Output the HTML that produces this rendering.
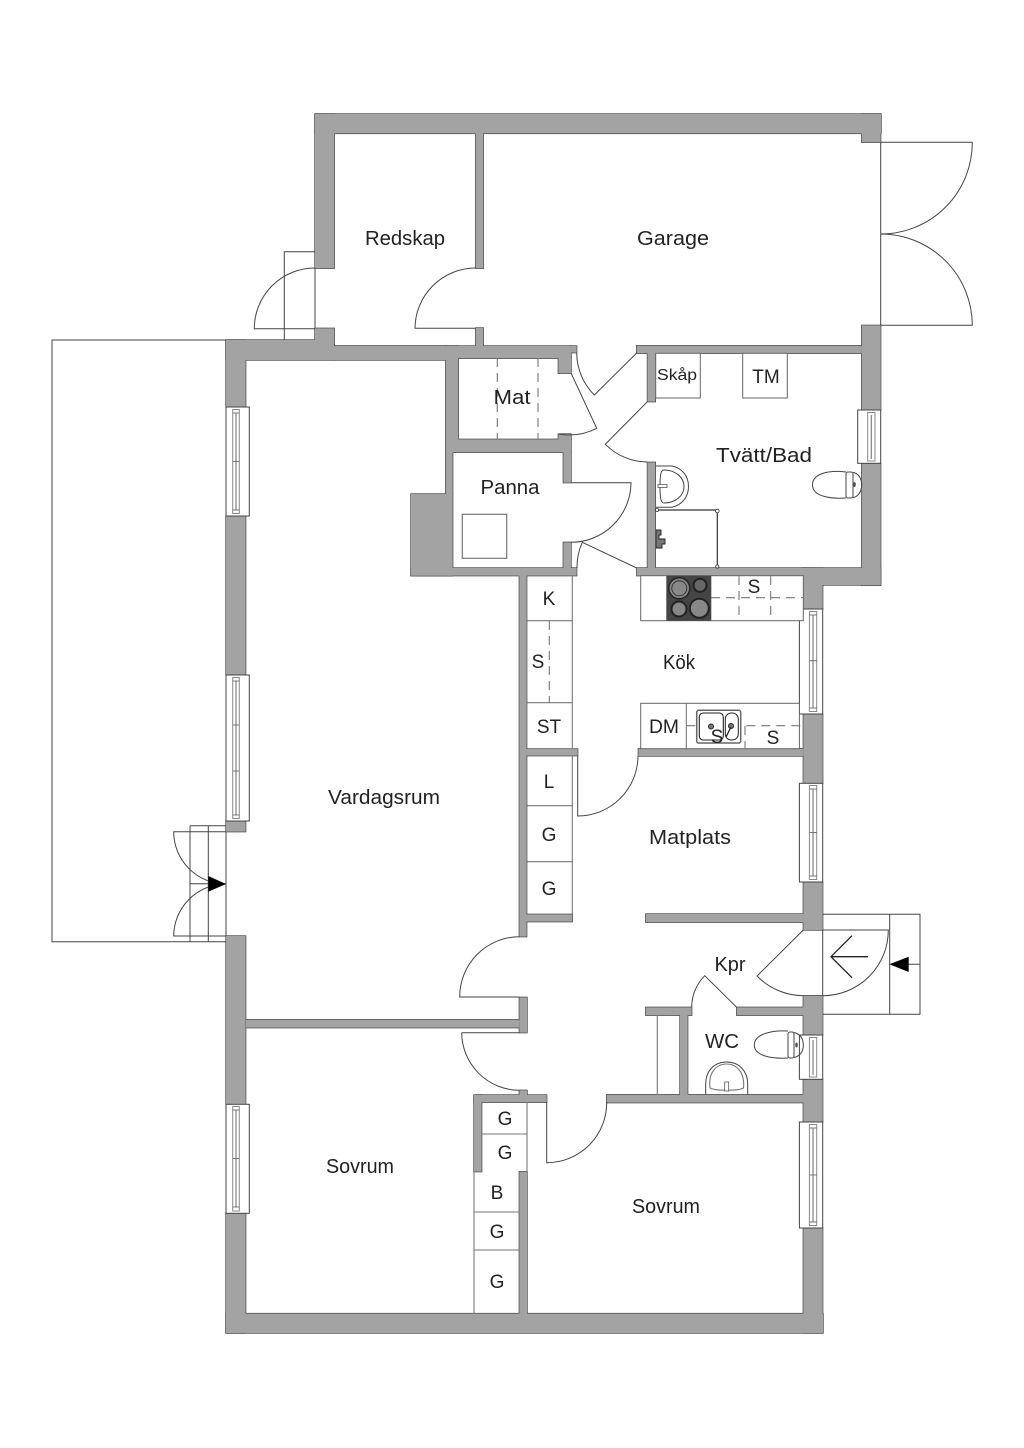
<!DOCTYPE html>
<html lang="sv">
<head>
<meta charset="utf-8">
<title>Planritning</title>
<style>
html,body{margin:0;padding:0;background:#fff}
svg{display:block}
text{font-family:"Liberation Sans",sans-serif;font-size:20px;fill:#222;text-anchor:middle}
.s{font-size:19px}
.l{fill:none;stroke:#444;stroke-width:1}
.g{fill:none;stroke:#777;stroke-width:1.1}
.d{fill:none;stroke:#777;stroke-width:1.1;stroke-dasharray:9 6}
.f{fill:#fff;stroke:#666;stroke-width:1}
.win{fill:#fff;stroke:#444;stroke-width:1}
.fr{fill:#fff;stroke:#888;stroke-width:1}
</style>
</head>
<body>
<svg xmlns="http://www.w3.org/2000/svg" width="1024" height="1448" viewBox="0 0 1024 1448">
<rect width="1024" height="1448" fill="#fff"/>
<defs>
<g id="w">
<rect x="315" y="114" width="566" height="19.5"/>
<rect x="315" y="114" width="19.3" height="154.3"/>
<rect x="861.7" y="114" width="19" height="28.3"/>
<rect x="475.7" y="133" width="7.6" height="135.3"/>
<rect x="315" y="328.3" width="19.3" height="20"/>
<rect x="475.7" y="328" width="7.6" height="20"/>
<rect x="226" y="340" width="108" height="20"/>
<rect x="334" y="346" width="237" height="12.3"/>
<rect x="334" y="346" width="112" height="14"/>
<rect x="570" y="346" width="6.7" height="6.7"/>
<rect x="558.3" y="357" width="12.7" height="16.3"/>
<rect x="445.7" y="346" width="12.6" height="106"/>
<rect x="445.7" y="439" width="7" height="55"/>
<rect x="445.7" y="439.3" width="125.3" height="13"/>
<rect x="558.3" y="434" width="12.7" height="6"/>
<rect x="563.3" y="452" width="7.7" height="30.7"/>
<rect x="411" y="494" width="41.7" height="81.7"/>
<rect x="411" y="568" width="165.7" height="7.7"/>
<rect x="563.3" y="542.3" width="7.7" height="26"/>
<rect x="519.3" y="575" width="7.4" height="361.7"/>
<rect x="526" y="749" width="51.7" height="6.7"/>
<rect x="526" y="914.3" width="46.3" height="7.4"/>
<rect x="226" y="340" width="19.7" height="67"/>
<rect x="226" y="516" width="19.7" height="159"/>
<rect x="226" y="820" width="19.7" height="11.7"/>
<rect x="226" y="936" width="19.7" height="168.3"/>
<rect x="226" y="1213" width="19.7" height="120"/>
<rect x="226" y="1313.5" width="597" height="19.5"/>
<rect x="803.3" y="568" width="19.4" height="41"/>
<rect x="803.3" y="714" width="19.4" height="69.3"/>
<rect x="803.3" y="882" width="19.4" height="48"/>
<rect x="803.3" y="995.7" width="19.4" height="39.3"/>
<rect x="803.3" y="1079.3" width="19.4" height="42.7"/>
<rect x="803.3" y="1228" width="19.4" height="105"/>
<rect x="636.7" y="345.7" width="225" height="7.6"/>
<rect x="861.7" y="325.3" width="19" height="84.7"/>
<rect x="861.7" y="463.3" width="19" height="122"/>
<rect x="803.3" y="568" width="77.4" height="17"/>
<rect x="636.7" y="568" width="167" height="7.7"/>
<rect x="647.4" y="353" width="8" height="48.7"/>
<rect x="647.4" y="462.3" width="8" height="106"/>
<rect x="638.3" y="748.7" width="165" height="7.3"/>
<rect x="645.7" y="914" width="158" height="8.3"/>
<rect x="645.7" y="1007.3" width="46" height="8"/>
<rect x="736.7" y="1007.3" width="67" height="8"/>
<rect x="680" y="1015" width="7.7" height="80"/>
<rect x="606.7" y="1094.7" width="197" height="8"/>
<rect x="474" y="1095" width="72.7" height="7.3"/>
<rect x="519.3" y="1090.3" width="7.7" height="5"/>
<rect x="474" y="1095" width="7.7" height="76.7"/>
<rect x="519.3" y="1171.7" width="7.7" height="142"/>
<rect x="246" y="1019.7" width="273.3" height="8"/>
<rect x="519.3" y="997.3" width="7.7" height="35.4"/>
</g>
</defs>

<path class="l" d="M226 340H52V941.7H226"/>
<path class="l" d="M190 825.7H226M190 825.7V941.7M208.3 825.7V941.7M190 883.7H226M226 831V937"/>
<path class="l" d="M226 831.7H173.7A52.3 52.3 0 0 0 226 884M226 936H173.7A52.3 52.3 0 0 1 226 884"/>
<polygon points="226,884 208.3,876 208.3,891.7" fill="#000"/>
<path class="l" d="M315 251.7H284.3V340"/>
<path class="l" d="M315 328.7H254.3A60.7 60.7 0 0 1 315 268"/>
<path class="l" d="M315 268V329"/>

<path class="l" d="M822.7 914.3H920V1014.3H822.7M889.7 914.3V1014.3M908 964.3H920"/>
<polygon points="889.3,964.3 908.7,956.7 908.7,972" fill="#000"/>
<path class="l" d="M803.3 930H888.3A65.5 65.5 0 0 1 822.7 995.7H803.3A65 65 0 0 1 757 976L803.3 930M822.7 930V996"/>
<path fill="none" stroke="#222" stroke-width="1.3" d="M868 956.7H831M852 935.7L831 956.7L852 977.7"/>

<path class="l" d="M880.7 142.3V325.3M880.7 142.3H972.3A91.5 91.5 0 0 1 880.7 234M880.7 325.3H972.3A91.5 91.5 0 0 0 880.7 234"/>

<use href="#w" fill="#333" stroke="#333" stroke-width="1.2"/>
<use href="#w" fill="#a3a3a3"/>

<path class="l" d="M476 328.3H415A60.7 60.7 0 0 1 475.7 268"/>
<path class="l" d="M577.7 756V816A60.3 60.3 0 0 0 638 756"/>
<path class="l" d="M519.3 936.7A60 60 0 0 0 459.7 997H519.3"/>
<path class="l" d="M461.7 1032.7H519.3M461.7 1032.7A58 58 0 0 0 519.3 1090.3"/>
<path class="l" d="M546.7 1102V1162.7A60 60 0 0 0 606.7 1102"/>
<path class="l" d="M736.7 1007.3L704.7 975.7A45 45 0 0 0 691.7 1007.3"/>
<path class="l" d="M571 373L596.7 428.3A61 61 0 0 1 558.3 434"/>
<path class="l" d="M576.7 353A60 60 0 0 0 594.3 395L636.7 353"/>
<path class="l" d="M647.4 401.7L605.3 444.3A60 60 0 0 0 647.4 462"/>
<path class="l" d="M571 482.7H631A60 60 0 0 1 571 542.3"/>
<path class="l" d="M636.7 568L582.3 542.3A60 60 0 0 0 577 568"/>

<rect class="win" x="226" y="407" width="23.3" height="109"/>
<rect class="win" x="226" y="675" width="23.3" height="146"/>
<rect class="win" x="226" y="1104.3" width="23.3" height="109"/>
<rect class="win" x="799.4" y="609" width="23.3" height="105"/>
<rect class="win" x="799.4" y="783.3" width="23.3" height="98.7"/>
<rect class="win" x="799.4" y="1035" width="23.3" height="44.3"/>
<rect class="win" x="799.4" y="1122" width="23.3" height="106"/>
<rect class="win" x="857.7" y="410" width="23" height="53.3"/>

<rect class="fr" x="232.7" y="409.5" width="6.6" height="104"/>
<path class="g" d="M236 413V510M232.7 461.5h6.600M232.7 413h6.600M232.7 510h6.600"/>
<rect class="fr" x="232.7" y="677.5" width="6.6" height="141"/>
<path class="g" d="M236 681V815M232.7 725h6.600M232.7 771h6.600M232.7 681h6.600M232.7 815h6.600"/>
<rect class="fr" x="232.7" y="1106.5" width="6.6" height="104.5"/>
<path class="g" d="M236 1110V1207M232.7 1158.500h6.600M232.7 1110h6.600M232.7 1207h6.600"/>
<rect class="fr" x="809.4" y="611.5" width="7.3" height="100"/>
<path class="g" d="M813 615V708M809.4 660.700h7.300M809.4 615h7.300M809.4 708h7.300"/>
<rect class="fr" x="809.4" y="785.5" width="7.3" height="94"/>
<path class="g" d="M813 789V876M809.4 832.500h7.300M809.4 789h7.300M809.4 876h7.300"/>
<rect class="fr" x="809.4" y="1037.5" width="7.3" height="39.5"/>
<path class="g" d="M813 1040V1075"/>
<rect class="fr" x="809.4" y="1124.5" width="7.3" height="101"/>
<path class="g" d="M813 1128V1222M809.4 1175h7.300M809.4 1128h7.300M809.4 1222h7.300"/>
<rect class="fr" x="867.7" y="412.5" width="7.3" height="48.5"/>
<path class="g" d="M871.3 415V459"/>

<path class="g" d="M572.3 576V749M572.3 756V914M527 620.700H572.300M527 702.700H572.300M527 805.700H572.300M527 861.700H572.300"/>
<path class="d" d="M549.3 621V703"/>
<path class="g" d="M527 1102V1171M482 1134H527M474 1172V1314M474 1212H519.300M474 1250H519.300"/>
<path class="g" d="M657.3 1015V1095"/>

<path class="d" d="M497.3 358V439M538 358V439"/>
<rect x="462.3" y="514.3" width="44.4" height="44" fill="#fff" stroke="#777" stroke-width="1.2"/>

<rect class="f" x="655.7" y="353.3" width="44.6" height="44.7"/>
<rect class="f" x="742.7" y="353.3" width="44.6" height="44.7"/>
<path class="l" d="M655.7 466H672C682 468 688.5 476 688.5 486.5C688.5 497 682 505 672 507.3H655.7"/>
<path class="l" d="M664 470C675 470 684 477 684 486.5C684 496 675 503 664 503C661 503 660 499 660 486.5C660 474 661 470 664 470Z"/>
<rect x="658" y="484.5" width="9" height="3" fill="#fff" stroke="#555" stroke-width="0.8"/>
<path fill="none" stroke="#333" stroke-width="1.2" d="M656 510H717.3V568"/>
<circle cx="657" cy="510" r="1.6" fill="#fff" stroke="#333" stroke-width="0.8"/>
<circle cx="717.3" cy="511" r="1.8" fill="#fff" stroke="#333" stroke-width="0.8"/>
<circle cx="717.3" cy="566.5" r="1.6" fill="#fff" stroke="#333" stroke-width="0.8"/>
<path fill="#777" stroke="#222" stroke-width="0.9" d="M656 530h5v5h-2v4h6v5h-3v4h-6z"/>
<path class="l" d="M846 472C830 470 812.5 473 812.5 484.7C812.5 496.5 830 499 846 498"/>
<rect x="846" y="472" width="7" height="26" rx="2" fill="#fff" stroke="#444"/>
<path class="l" d="M853 472.5C858 473 861.7 478 861.7 484.7C861.7 491.5 858 497 853 497.5"/>
<ellipse cx="854.5" cy="484.5" rx="1.3" ry="2.5" fill="#555"/>

<rect class="f" x="640.7" y="575.7" width="162.6" height="45"/>
<rect x="666.3" y="575.7" width="45" height="45" fill="#454545"/>
<circle cx="679.3" cy="588.3" r="10.5" fill="#888" stroke="#222" stroke-width="1.5"/>
<circle cx="679.3" cy="588.3" r="7.5" fill="#888" stroke="#222" stroke-width="0.8"/>
<circle cx="700" cy="585.3" r="6.5" fill="#666" stroke="#222" stroke-width="2"/>
<circle cx="679" cy="609" r="7.5" fill="#888" stroke="#222" stroke-width="2"/>
<circle cx="699.3" cy="608.3" r="9.5" fill="#888" stroke="#222" stroke-width="2"/>
<path class="d" d="M711 597.7H803M739 576V620M770.7 576V620"/>

<rect class="f" x="640.7" y="703.3" width="158.7" height="45.4"/>
<path class="g" d="M686.3 703.3V748.7"/>
<path class="d" d="M686.3 725.7H803M745 726V748"/>
<rect x="696.7" y="710.3" width="44" height="32.7" rx="2" fill="#fff" stroke="#666" stroke-width="1.5"/>
<rect x="699.3" y="713" width="24" height="27" rx="4" fill="none" stroke="#222" stroke-width="1.1"/>
<rect x="725.3" y="713" width="13" height="27" rx="6" fill="none" stroke="#222" stroke-width="1"/>
<circle cx="711" cy="726.5" r="2.5" fill="#777" stroke="#222"/>
<circle cx="731" cy="726" r="2.5" fill="#777" stroke="#222"/>
<path stroke="#222" stroke-width="1.3" d="M731 727L726 737"/>

<path class="l" d="M788 1031C772 1030 754.3 1034 754.3 1045C754.3 1056 772 1059 788 1058"/>
<rect x="788" y="1032" width="6" height="26" rx="2" fill="#fff" stroke="#444"/>
<path class="l" d="M794 1032.5C800 1034 803.3 1038 803.3 1045C803.3 1052 800 1056 794 1057.5"/>
<ellipse cx="796.5" cy="1045" rx="1.3" ry="2.5" fill="#555"/>
<path class="l" d="M705.7 1095V1084C705.7 1071 714 1062 726.7 1062C739 1062 747.7 1071 747.7 1084V1095"/>
<path class="g" d="M710 1088C708 1073 716 1064 726.7 1064C737 1064 745 1073 743.5 1088C738 1091 716 1091 710 1088Z"/>
<rect x="724.7" y="1082" width="4" height="9" fill="#fff" stroke="#555" stroke-width="0.8"/>

<text x="405" y="245" textLength="80" lengthAdjust="spacingAndGlyphs">Redskap</text>
<text x="673" y="245" textLength="72" lengthAdjust="spacingAndGlyphs">Garage</text>
<text x="512" y="404" textLength="37" lengthAdjust="spacingAndGlyphs">Mat</text>
<text x="510" y="494" textLength="59" lengthAdjust="spacingAndGlyphs">Panna</text>
<text x="677" y="380" style="font-size:16px" textLength="40" lengthAdjust="spacingAndGlyphs">Skåp</text>
<text x="766" y="383" class="s">TM</text>
<text x="764" y="462" textLength="96" lengthAdjust="spacingAndGlyphs">Tvätt/Bad</text>
<text x="679" y="669" textLength="32" lengthAdjust="spacingAndGlyphs">Kök</text>
<text x="754" y="593" class="s">S</text>
<text x="549" y="605" class="s">K</text>
<text x="538" y="668" class="s">S</text>
<text x="549" y="733" class="s">ST</text>
<text x="664" y="733" class="s" textLength="30" lengthAdjust="spacingAndGlyphs">DM</text>
<text x="717" y="743" class="s">S</text>
<text x="773" y="744" class="s">S</text>
<text x="549" y="788" class="s">L</text>
<text x="549" y="841" class="s">G</text>
<text x="549" y="895" class="s">G</text>
<text x="384" y="804" textLength="112" lengthAdjust="spacingAndGlyphs">Vardagsrum</text>
<text x="690" y="844" textLength="82" lengthAdjust="spacingAndGlyphs">Matplats</text>
<text x="730" y="971" textLength="31" lengthAdjust="spacingAndGlyphs">Kpr</text>
<text x="722" y="1048" textLength="34" lengthAdjust="spacingAndGlyphs">WC</text>
<text x="360" y="1173" textLength="68" lengthAdjust="spacingAndGlyphs">Sovrum</text>
<text x="666" y="1213" textLength="68" lengthAdjust="spacingAndGlyphs">Sovrum</text>
<text x="505" y="1125" class="s">G</text>
<text x="505" y="1159" class="s">G</text>
<text x="497" y="1199" class="s">B</text>
<text x="497" y="1238" class="s">G</text>
<text x="497" y="1288" class="s">G</text>
</svg>
</body>
</html>
